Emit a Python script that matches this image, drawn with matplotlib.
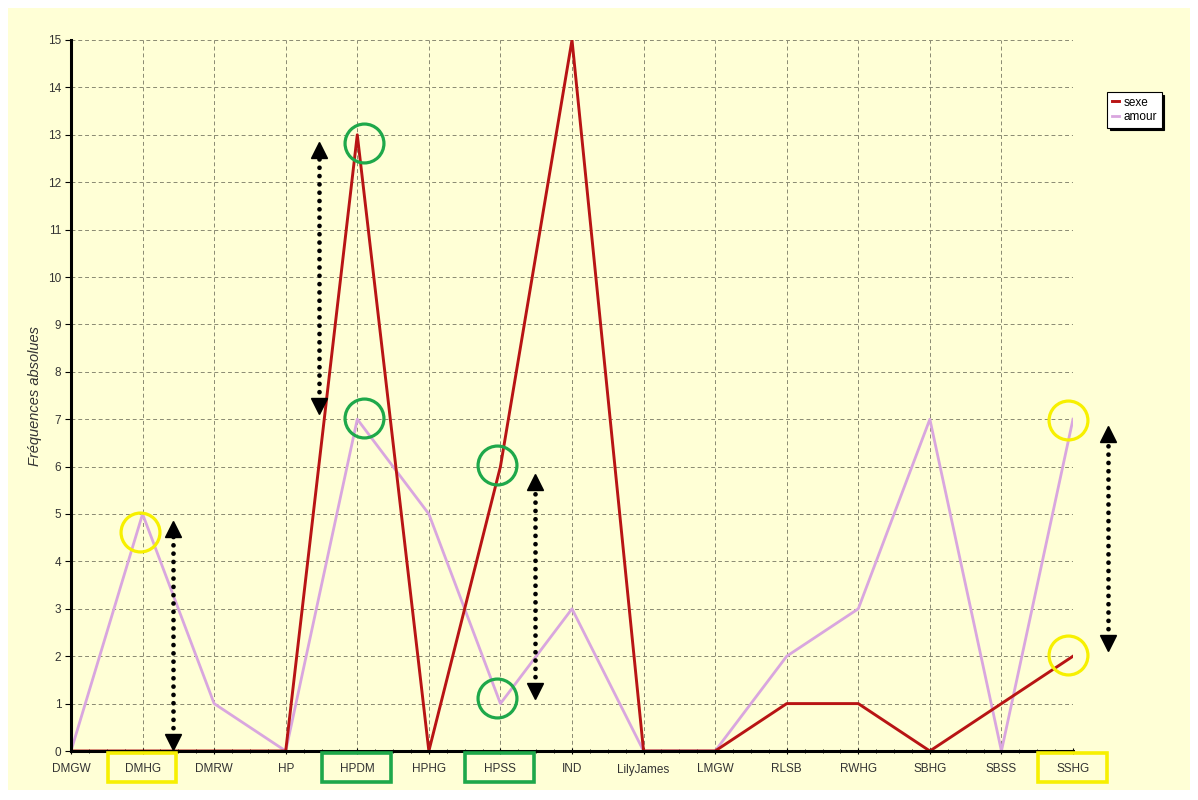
import matplotlib
matplotlib.use("Agg")
import matplotlib.pyplot as plt
from matplotlib.patches import Rectangle
from matplotlib.transforms import offset_copy
import numpy as np

plt.rcParams['font.family'] = ['Liberation Sans', 'DejaVu Sans']

categories = ['DMGW', 'DMHG', 'DMRW', 'HP', 'HPDM', 'HPHG', 'HPSS', 'IND',
              'LilyJames', 'LMGW', 'RLSB', 'RWHG', 'SBHG', 'SBSS', 'SSHG']
sexe = [0, 0, 0, 0, 13, 0, 6, 15, 0, 0, 1, 1, 0, 1, 2]
amour = [0, 5, 1, 0, 7, 5, 1, 3, 0, 0, 2, 3, 7, 0, 7]

# categories that are highlighted on the picture (label box + circles + arrow)
yellow_cats = ['DMHG', 'SSHG']
green_cats = ['HPDM', 'HPSS']

bg = '#FFFFD6'
red = '#B81414'
pink = '#D9A6DF'
yellow = '#F7F000'
green = '#1EA84A'

fig = plt.figure(figsize=(11.98, 8), dpi=100)
fig.patch.set_facecolor('white')
fig.add_artist(Rectangle((8 / 1198, 10 / 800), 1182 / 1198, 782 / 800,
                         transform=fig.transFigure, facecolor=bg,
                         edgecolor='none', zorder=-10))

ax = fig.add_axes([71 / 1198, 49 / 800, 1002 / 1198, 711 / 800])
ax.set_facecolor(bg)

x = np.arange(len(categories))
ax.plot(x, amour, color=pink, lw=2, label='amour', zorder=2)
ax.plot(x, sexe, color=red, lw=2.1, label='sexe', zorder=3)

ax.set_xlim(0, len(categories) - 1)
ax.set_ylim(0, 15)
ax.set_xticks(x)
ax.set_xticklabels(categories, fontsize=8.5, color='#333333')
ax.set_yticks(range(16))
ax.set_yticklabels([str(v) for v in range(16)], fontsize=8.5, color='#333333')
ax.set_xticks(np.arange(0, len(categories) - 1, 0.25), minor=True)
ax.tick_params(axis='x', which='major', length=4, direction='inout', pad=7)
ax.tick_params(axis='x', which='minor', length=3, direction='inout')
ax.tick_params(axis='y', length=4, direction='out', pad=3)
ax.grid(True, which='major', linestyle=(0, (4, 3)), color='#8A8A72', lw=0.7)
ax.set_axisbelow(True)

for side in ['top', 'right']:
    ax.spines[side].set_visible(False)
for side in ['left', 'bottom']:
    ax.spines[side].set_linewidth(2.2)
    ax.spines[side].set_zorder(4)

ax.set_ylabel('Fréquences absolues', fontsize=10.5, style='italic',
              color='#333333', labelpad=4)

# legend with a black drop shadow
handles, labels = ax.get_legend_handles_labels()
leg = fig.legend(handles[::-1], labels[::-1], loc='upper left',
                 bbox_to_anchor=(1101 / 1198, 1 - 86 / 800), fontsize=8.5,
                 handlelength=0.6, handletextpad=0.4, borderpad=0.4,
                 labelspacing=0.2, frameon=True, fancybox=False,
                 shadow={'color': 'black', 'alpha': 1}, framealpha=1)
leg.get_frame().set_edgecolor('black')
leg.get_frame().set_linewidth(0.8)

# boxes around the highlighted category labels
for cat in categories:
    if cat in yellow_cats or cat in green_cats:
        i = categories.index(cat)
        col = yellow if cat in yellow_cats else green
        ax.add_patch(Rectangle((i - 0.49, -0.66), 0.96, 0.62, fill=False,
                               edgecolor=col, lw=2.6, clip_on=False, zorder=5))

# circles on the two values and dotted double arrows between them
circle_pts = {
    'DMHG': [(-0.04, amour[1] - 0.38)],
    'HPDM': [(0.1, sexe[4] - 0.17), (0.09, amour[4] + 0.03)],
    'HPSS': [(-0.05, sexe[6] + 0.03), (-0.05, amour[6] + 0.12)],
    'SSHG': [(-0.07, amour[14] - 0.02), (-0.07, sexe[14] + 0.03)],
}
arrow_dx = {'DMHG': 0.43, 'HPDM': -0.53, 'HPSS': 0.48, 'SSHG': 0.49}
up_tr = offset_copy(ax.transData, fig=fig, y=-5.8, units='points')
dn_tr = offset_copy(ax.transData, fig=fig, y=5.8, units='points')

for cat, pts in circle_pts.items():
    i = categories.index(cat)
    col = yellow if cat in yellow_cats else green
    for dx, yv in pts:
        ax.plot(i + dx, yv, 'o', ms=28, mfc='none', mec=col, mew=2.3,
                clip_on=False, zorder=6)
    lo = min(sexe[i], amour[i])
    hi = max(sexe[i], amour[i])
    xa = i + arrow_dx[cat]
    y_top = hi - 0.15
    y_bot = lo + (0.02 if lo == 0 else 0.1)
    ax.plot([xa, xa], [y_bot + 0.3, y_top - 0.3], color='black', lw=3.4,
            linestyle=(0, (0.01, 1.75)), dash_capstyle='round',
            clip_on=False, zorder=6)
    ax.plot(xa, y_top, '^', ms=11.5, color='black', transform=up_tr,
            clip_on=False, zorder=7)
    ax.plot(xa, y_bot, 'v', ms=11.5, color='black', transform=dn_tr,
            clip_on=False, zorder=7)

fig.savefig('out.png', dpi=100, facecolor=fig.get_facecolor())
